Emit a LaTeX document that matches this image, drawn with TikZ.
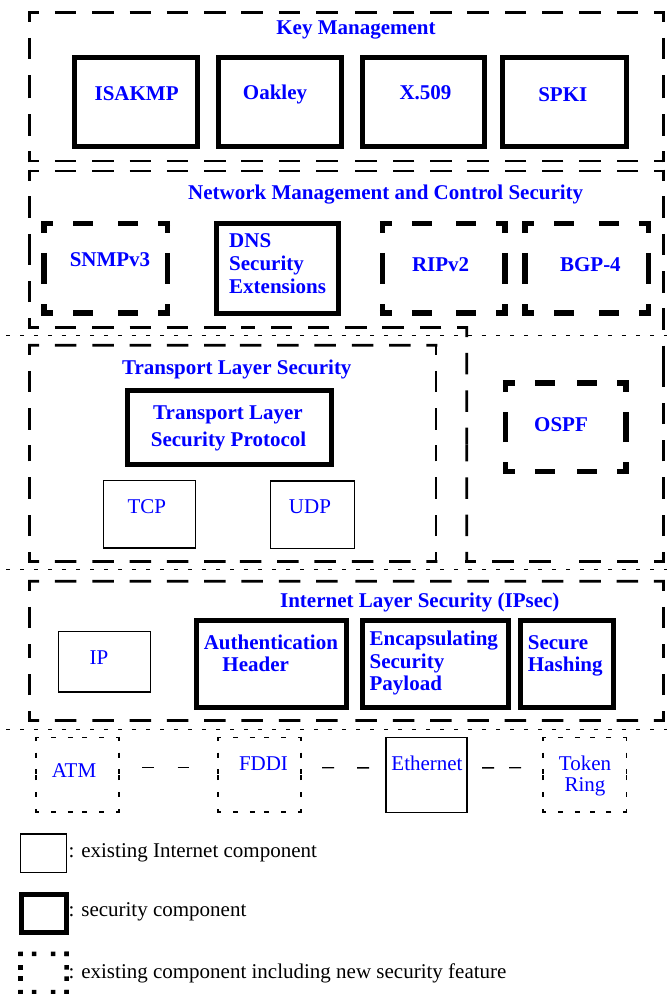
\documentclass[tikz,border=0pt]{standalone}
\usepackage{fontspec}
\setmainfont{Liberation Serif}
\usetikzlibrary{calc}
\definecolor{kblue}{RGB}{0,0,255}
% draw a side from both of its ends towards its middle, so every corner gets an L
\newcommand{\halfdash}[3]{%
  \draw[#1] (#2) -- ($(#2)!0.5!(#3)$);
  \draw[#1] (#3) -- ($(#2)!0.5!(#3)$);}
\newcommand{\dframe}[2]{%
  \halfdash{#1}{#2.north west}{#2.north east}
  \halfdash{#1}{#2.north east}{#2.south east}
  \halfdash{#1}{#2.south east}{#2.south west}
  \halfdash{#1}{#2.south west}{#2.north west}}
\begin{document}
\begin{tikzpicture}[x=1pt,y=-1pt,
  outerdash/.style={line width=2.7pt, dash pattern=on 21.5pt off 15.8pt, dash phase=10.5pt, shorten <=-1.35pt},
  thickdash/.style={line width=5.3pt, dash pattern=on 20pt off 20pt, dash phase=8pt, shorten <=-2.65pt},
  thindot/.style={line width=1.1pt, dash pattern=on 5pt off 11.7pt, dash phase=1pt, shorten <=-0.55pt},
  legdot/.style={line width=4.5pt, dash pattern=on 4.5pt off 9pt, dash phase=0pt, shorten <=-2.25pt},
  sepline/.style={line width=1pt, dash pattern=on 4pt off 10pt},
  frame/.style={inner sep=0pt, outer sep=0pt},
  secbox/.style={draw, line width=5pt, inner sep=0pt, outer sep=0pt},
  thinbox/.style={draw, line width=1.2pt, inner sep=0pt, outer sep=0pt},
  btxt/.style={font=\fontsize{21}{24}\selectfont\bfseries, text=kblue, inner sep=0pt, anchor=base},
  bltxt/.style={btxt, anchor=base west},
  rtxt/.style={font=\fontsize{21}{24}\selectfont, text=kblue, inner sep=0pt, anchor=base},
  legtxt/.style={font=\fontsize{21}{24}\selectfont, text=black, inner sep=0pt, anchor=base west},
  linkdash/.style={line width=1.3pt}
]
\useasboundingbox (0,0) rectangle (667,994);

% layer separators
\coordinate (s1l) at (6,335.5);  \coordinate (s1r) at (667,335.5);
\coordinate (s2l) at (6,569.5);  \coordinate (s2r) at (667,569.5);
\coordinate (s3l) at (6,729);    \coordinate (s3r) at (667,729);
\draw[sepline] (s1l) -- (s1r);
\draw[sepline] (s2l) -- (s2r);
\draw[sepline] (s3l) -- (s3r);

% ---------- Key Management ----------
\node[frame, minimum width=634, minimum height=148.5] (km) at (346.5,86.75) {};
\dframe{outerdash}{km}
\node[btxt] (kmt) at (356,34) {Key Management};
\node[secbox, minimum width=123.5, minimum height=89] (isakmp) at (135.75,102) {};
\node[secbox, minimum width=123, minimum height=89] (oakley) at (280,102) {};
\node[secbox, minimum width=122, minimum height=89] (x509) at (423.5,102) {};
\node[secbox, minimum width=124, minimum height=89] (spki) at (564.5,102) {};
\node[btxt] (t-isakmp) at (136.6,100) {ISAKMP};
\node[btxt] (t-oakley) at (275,99) {Oakley};
\node[btxt] (t-x509) at (425.5,99) {X.509};
\node[btxt] (t-spki) at (562.8,101.7) {SPKI};

% ---------- Network Management and Control Security (L-shaped) ----------
\coordinate (nm1) at (29.5,171);
\coordinate (nm2) at (663.5,171);
\coordinate (nm3) at (663.5,561.5);
\coordinate (nm4) at (466.7,561.5);
\coordinate (nm5) at (466.7,327.5);
\coordinate (nm6) at (29.5,327.5);
\halfdash{outerdash}{nm1}{nm2}
\halfdash{outerdash}{nm2}{nm3}
\halfdash{outerdash}{nm3}{nm4}
\halfdash{outerdash}{nm4}{nm5}
\halfdash{outerdash}{nm5}{nm6}
\halfdash{outerdash}{nm6}{nm1}
\node[btxt] (nmt) at (385.7,199) {Network Management and Control Security};
\node[frame, minimum width=123.5, minimum height=89.5] (snmp) at (105.75,268.25) {};
\dframe{thickdash}{snmp}
\node[secbox, minimum width=122.5, minimum height=89.5] (dns) at (277.25,268.25) {};
\node[frame, minimum width=122.5, minimum height=89.5] (rip) at (443.75,268.25) {};
\dframe{thickdash}{rip}
\node[frame, minimum width=123.5, minimum height=89.5] (bgp) at (586.75,268.25) {};
\dframe{thickdash}{bgp}
\node[btxt] (t-snmp) at (110,266) {SNMPv3};
\node[bltxt] (t-dns1) at (229,247) {DNS};
\node[bltxt] (t-dns2) at (229,270.5) {Security};
\node[bltxt] (t-dns3) at (229,293.5) {Extensions};
\node[btxt] (t-rip) at (440.6,271.7) {RIPv2};
\node[btxt] (t-bgp) at (590.4,271.7) {BGP-4};
\node[frame, minimum width=120.5, minimum height=88.5] (ospf) at (565.75,427.25) {};
\dframe{thickdash}{ospf}
\node[btxt] (t-ospf) at (561,431) {OSPF};

% ---------- Transport Layer Security ----------
\node[frame, minimum width=406.5, minimum height=216.2] (tls) at (232.75,453.4) {};
\dframe{outerdash}{tls}
\node[btxt] (tlst) at (236.8,374) {Transport Layer Security};
\node[secbox, minimum width=204, minimum height=74.5] (tlsp) at (229,427.25) {};
\node[btxt] (t-tlsp1) at (228,419) {Transport Layer};
\node[btxt] (t-tlsp2) at (228.5,446) {Security Protocol};
\node[thinbox, minimum width=91.5, minimum height=67.7] (tcp) at (149.5,514.2) {};
\node[thinbox, minimum width=84, minimum height=67.3] (udp) at (312.5,514.6) {};
\node[rtxt] (t-tcp) at (146.8,513) {TCP};
\node[rtxt] (t-udp) at (310,513) {UDP};

% ---------- Internet Layer Security ----------
\node[frame, minimum width=634, minimum height=139.2] (ipsec) at (346.5,650.9) {};
\dframe{outerdash}{ipsec}
\node[btxt] (ipsect) at (419.8,607.3) {Internet Layer Security (IPsec)};
\node[thinbox, minimum width=92, minimum height=60.3] (ip) at (104.25,661.85) {};
\node[rtxt] (t-ip) at (99,664.3) {IP};
\node[secbox, minimum width=150.5, minimum height=87] (ah) at (271.25,663.5) {};
\node[btxt] (t-ah1) at (270.9,649) {Authentication};
\node[btxt] (t-ah2) at (255.7,671.7) {Header};
\node[secbox, minimum width=146, minimum height=87] (esp) at (435,663.5) {};
\node[bltxt] (t-esp1) at (369.4,645) {Encapsulating};
\node[bltxt] (t-esp2) at (369.4,668.3) {Security};
\node[bltxt] (t-esp3) at (369.4,690.5) {Payload};
\node[secbox, minimum width=93.2, minimum height=87] (sh) at (567.1,663.5) {};
\node[bltxt] (t-sh1) at (527.7,649) {Secure};
\node[bltxt] (t-sh2) at (527.7,671.7) {Hashing};

% ---------- Link layer ----------
\node[frame, minimum width=83, minimum height=74.5] (atm) at (77.5,774.75) {};
\dframe{thindot}{atm}
\node[frame, minimum width=83, minimum height=74.5] (fddi) at (259.5,774.75) {};
\dframe{thindot}{fddi}
\node[thinbox, minimum width=81, minimum height=75] (eth) at (426.5,774.9) {};
\node[frame, minimum width=83.5, minimum height=74.5] (token) at (584.75,774.75) {};
\dframe{thindot}{token}
\node[rtxt] (t-atm) at (74,777.3) {ATM};
\node[rtxt] (t-fddi) at (263.5,770.7) {FDDI};
\node[rtxt] (t-eth) at (427,770.7) {Ethernet};
\node[rtxt] (t-token) at (585,770.7) {Token};
\node[rtxt] (t-ring) at (585,791.5) {Ring};
\draw[linkdash, dash pattern=on 11.5pt off 24pt, shorten <=23pt, shorten >=29pt]
  ([yshift=7pt]atm.east) -- ([yshift=7pt]fddi.west);
\draw[linkdash, dash pattern=on 12pt off 23pt, shorten <=21pt, shorten >=17pt]
  ([yshift=7pt]fddi.east) -- ([yshift=7pt]eth.west);
\draw[linkdash, dash pattern=on 12pt off 15pt, shorten <=15pt, shorten >=22pt]
  ([yshift=7pt]eth.east) -- ([yshift=7pt]token.west);

% ---------- Legend ----------
\node[thinbox, minimum width=46, minimum height=38.7] (lg1) at (43.7,853.35) {};
\node[legtxt] (lt1) at (68.3,857.3) {: existing Internet component};
\node[secbox, minimum width=45.8, minimum height=38.5] (lg2) at (43.9,913.25) {};
\node[legtxt] (lt2) at (68.3,916.7) {: security component};
\node[frame, minimum width=46.2, minimum height=38.2] (lg3) at (43.6,972.9) {};
\dframe{legdot}{lg3}
\node[legtxt] (lt3) at (68.3,978.3) {: existing component including new security feature};
\end{tikzpicture}
\end{document}
